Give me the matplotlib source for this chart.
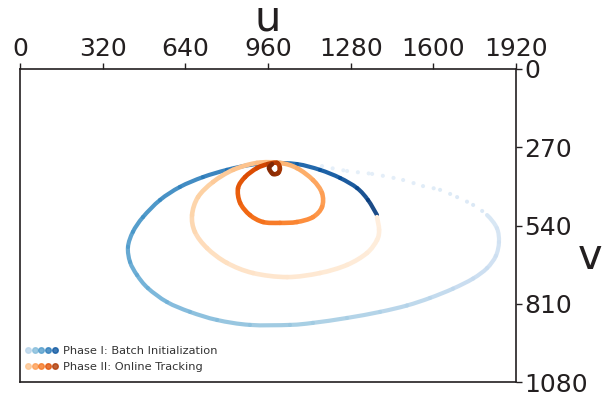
import numpy as np
import matplotlib
matplotlib.use("Agg")
import matplotlib.pyplot as plt
from matplotlib.path import Path
from matplotlib.patches import PathPatch
from matplotlib.lines import Line2D
from matplotlib.legend_handler import HandlerTuple

# ---- data (image coordinates, pixels of a 1920x1080 frame) ----
blue_u = [1169, 1266, 1363, 1483, 1560, 1626, 1692, 1754, 1808, 1846, 1854, 1842,
          1808, 1754, 1676, 1587, 1498, 1394, 1266, 1134, 1045, 890, 763, 658, 569,
          495, 453, 426, 418, 437, 476, 542, 619, 708, 801, 890, 968, 1072, 1161,
          1239, 1305, 1347, 1382]
blue_v = [335, 352, 362, 383, 404, 417, 442, 469, 504, 549, 597, 645, 687, 723,
          758, 790, 816, 838, 859, 876, 883, 883, 866, 838, 804, 756, 711, 666, 614,
          562, 511, 452, 407, 373, 348, 331, 324, 328, 348, 376, 411, 452, 504]

orange_u = [1382, 1390, 1382, 1343, 1266, 1161, 1034, 902, 801, 724, 677, 666, 689,
            747, 825, 917, 1006, 1072, 1134, 1169, 1169, 1134, 1072, 1006, 941, 890,
            852, 844, 871, 917, 960, 995, 1006, 999, 979, 964, 976]
orange_v = [511, 555, 590, 635, 676, 704, 718, 704, 669, 618, 562, 504, 442, 390,
            348, 324, 324, 342, 383, 428, 476, 511, 528, 531, 528, 504, 462, 411,
            373, 342, 328, 324, 342, 359, 362, 342, 328]

u_ticks = [0, 320, 640, 960, 1280, 1600, 1920]
v_ticks = [0, 270, 540, 810, 1080]
legend_labels = ["Phase I: Batch Initialization", "Phase II: Online Tracking"]

INK = "#231f20"

fig = plt.figure(figsize=(6.03, 3.94), dpi=100)
ax = fig.add_axes([20 / 603, 12 / 394, 496 / 603, 313 / 394])


def levels(n, lo, hi, power=1.5):
    t = np.linspace(0, 1, n)
    return lo + (hi - lo) * t ** power


def smooth_track(ax, u, v, cmap, lo, hi, lw, n_dotted=0, alpha=1.0, zorder=2):
    """Draw the track through the read points as smooth (Catmull-Rom style)
    Bezier pieces, each coloured along the colormap."""
    p = np.column_stack([u, v]).astype(float)
    n = len(p)
    cols = plt.get_cmap(cmap)(levels(n - 1, lo, hi))
    for i in range(n - 1):
        p0 = p[max(i - 1, 0)]
        p1, p2 = p[i], p[i + 1]
        p3 = p[min(i + 2, n - 1)]
        c1 = p1 + (p2 - p0) / 6.0
        c2 = p2 - (p3 - p1) / 6.0
        path = Path([p1, c1, c2, p2], [Path.MOVETO, Path.CURVE4, Path.CURVE4, Path.CURVE4])
        ls = (0, (0.01, 2.6)) if i < n_dotted else "-"
        patch = PathPatch(path, fill=False, edgecolor=cols[i], lw=lw, linestyle=ls,
                          capstyle="round", joinstyle="round", alpha=alpha, zorder=zorder)
        ax.add_patch(patch)


smooth_track(ax, blue_u, blue_v, "Blues", 0.10, 0.95, 3.0, n_dotted=8, alpha=0.92, zorder=2)
smooth_track(ax, orange_u, orange_v, "Oranges", 0.06, 1.0, 3.3, zorder=3)

ax.set_xlim(0, 1920)
ax.set_ylim(1080, 0)
ax.xaxis.tick_top()
ax.yaxis.tick_right()
ax.set_xticks(u_ticks)
ax.set_yticks(v_ticks)
ax.tick_params(axis="both", direction="out", length=4, width=1, colors=INK,
               labelsize=18, pad=2)
for s in ax.spines.values():
    s.set_color(INK)
    s.set_linewidth(1.2)

ax.set_xlabel("u", fontsize=30, color=INK)
ax.xaxis.set_label_position("top")
ax.xaxis.set_label_coords(0.5, 1.162)
ax.xaxis.label.set_verticalalignment("center")

ax.set_ylabel("v", fontsize=30, color=INK, rotation=0)
ax.yaxis.set_label_position("right")
ax.yaxis.set_label_coords(1.149, 0.40)
ax.yaxis.label.set_verticalalignment("center")
ax.yaxis.label.set_horizontalalignment("center")

# legend with five gradient dots per phase
bl = plt.get_cmap("Blues")(np.linspace(0.3, 0.85, 5))
orc = plt.get_cmap("Oranges")(np.linspace(0.3, 0.85, 5))
hb = tuple(Line2D([], [], ls="none", marker="o", ms=4, mfc=c, mec=c, alpha=0.8) for c in bl)
ho = tuple(Line2D([], [], ls="none", marker="o", ms=4, mfc=c, mec=c, alpha=0.8) for c in orc)
leg = ax.legend([hb, ho], legend_labels,
                handler_map={tuple: HandlerTuple(ndivide=None, pad=0)},
                loc="lower left", bbox_to_anchor=(-0.005, 0.01), frameon=False,
                fontsize=8.2, handlelength=3.0, handletextpad=0.4,
                borderaxespad=0.2, labelspacing=0.5)
for t in leg.get_texts():
    t.set_color("#333333")

fig.savefig("out.png", dpi=100)
